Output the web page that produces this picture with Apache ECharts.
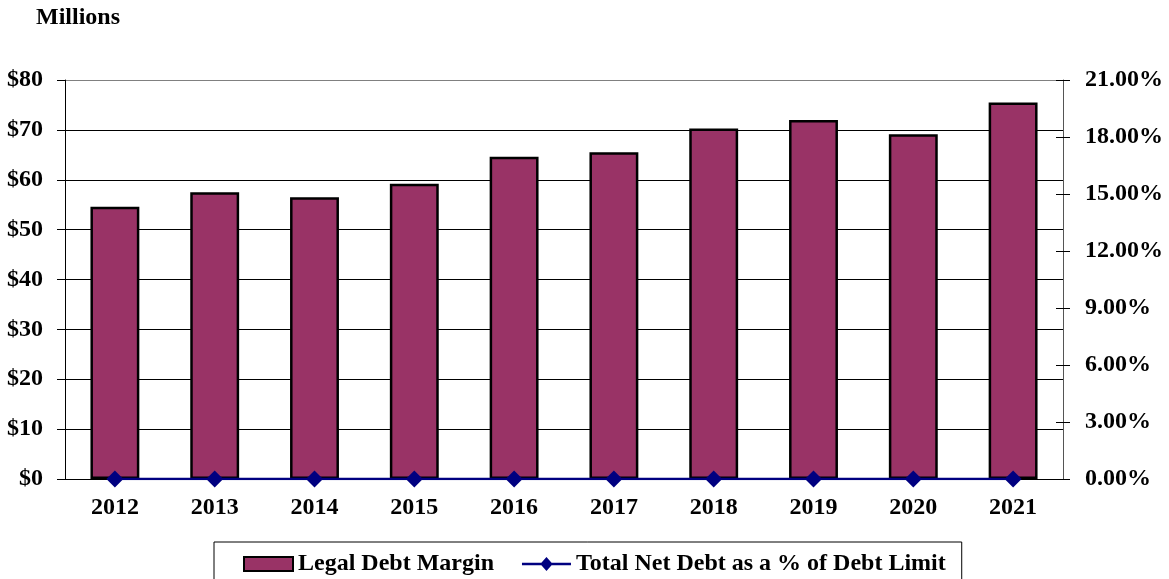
<!DOCTYPE html>
<html>
<head>
<meta charset="utf-8">
<script src="https://cdn.jsdelivr.net/npm/echarts@6/dist/echarts.min.js"></script>
<style>
  html, body { margin: 0; padding: 0; background: #fff; }
  #main { width: 1169px; height: 579px; }
</style>
</head>
<body>
<div id="main"></div>
<script>
// 年份
var years = ['2012', '2013', '2014', '2015', '2016', '2017', '2018', '2019', '2020', '2021'];
// 法定债务余额（百万）
var legalDebtMargin = [54.6, 57.5, 56.5, 59.2, 64.6, 65.5, 70.3, 72.0, 69.1, 75.5];
// 净债务占债务上限比例
var netDebtPct = [0, 0, 0, 0, 0, 0, 0, 0, 0, 0];

var FONT = '"Liberation Serif", "Times New Roman", serif';
var LABEL = { fontFamily: FONT, fontSize: 24, fontWeight: 'bold', color: '#000' };

var myChart = echarts.init(document.getElementById('main'));
var option = {
	animation: false,
	textStyle: { fontFamily: FONT },
	title: {
		text: 'Millions',
		left: 36,
		top: 6,
		padding: 0,
		textStyle: LABEL
	},
	legend: {
		left: 214,
		top: 542,
		padding: [10, 16, 10, 29],
		itemGap: 28,
		itemWidth: 49,
		itemHeight: 14,
		borderColor: '#000',
		borderWidth: 1,
		textStyle: LABEL,
		data: [
			{ name: 'Legal Debt Margin', icon: 'rect' },
			{
				name: 'Total Net Debt as a % of Debt Limit',
				// 线 + 菱形
				icon: 'path://M0,5.8L19.4,5.8L24.5,0L29.6,5.8L49,5.8L49,8.2L29.6,8.2L24.5,14L19.4,8.2L0,8.2Z'
			}
		]
	},
	grid: {
		left: 65,
		right: 106,
		top: 80,
		bottom: 100
	},
	xAxis: [
		{
			type: 'category',
			data: years,
			position: 'bottom',
			axisLine: { lineStyle: { color: '#000', width: 1 } },
			axisTick: { inside: true, length: 7, lineStyle: { color: '#000' } },
			axisLabel: Object.assign({ margin: 17 }, LABEL)
		},
		{
			// 只画刻度的下半截
			type: 'category',
			data: years,
			position: 'bottom',
			axisLine: { show: false },
			axisTick: { inside: false, length: 7, lineStyle: { color: '#000' } },
			axisLabel: { show: false }
		}
	],
	yAxis: [
		{
			type: 'value',
			min: 0,
			max: 80,
			interval: 10,
			axisLine: { show: true, lineStyle: { color: '#000' } },
			axisTick: { show: true, length: 8, lineStyle: { color: '#000' } },
			splitLine: { lineStyle: { color: ['#000', '#000', '#000', '#000', '#000', '#000', '#000', '#000', '#808080'], width: 1 } },
			axisLabel: Object.assign({
				margin: 22,
				formatter: function (v) { return '$' + v; }
			}, LABEL)
		},
		{
			type: 'value',
			min: 0,
			max: 21,
			interval: 3,
			position: 'right',
			axisLine: { show: true, lineStyle: { color: '#555' } },
			axisTick: { show: true, length: 7, lineStyle: { color: '#000' } },
			splitLine: { show: false },
			axisLabel: Object.assign({
				margin: 22,
				formatter: function (v) { return v.toFixed(2) + '%'; }
			}, LABEL)
		},
		{
			// 右轴刻度的内半截
			type: 'value',
			min: 0,
			max: 21,
			interval: 3,
			position: 'right',
			axisLine: { show: false },
			axisTick: { show: true, inside: true, length: 7, lineStyle: { color: '#000' } },
			splitLine: { show: false },
			axisLabel: { show: false }
		}
	],
	series: [
		{
			name: 'Legal Debt Margin',
			type: 'bar',
			xAxisIndex: 0,
			yAxisIndex: 0,
			barWidth: '49%',
			itemStyle: { color: '#993366', borderColor: '#000', borderWidth: 2.5 },
			data: legalDebtMargin
		},
		{
			name: 'Total Net Debt as a % of Debt Limit',
			type: 'line',
			xAxisIndex: 0,
			yAxisIndex: 1,
			symbol: 'diamond',
			symbolSize: 17,
			lineStyle: { color: '#000080', width: 2.5 },
			itemStyle: { color: '#000080' },
			data: netDebtPct
		}
	]
};
myChart.setOption(option);
</script>
</body>
</html>
